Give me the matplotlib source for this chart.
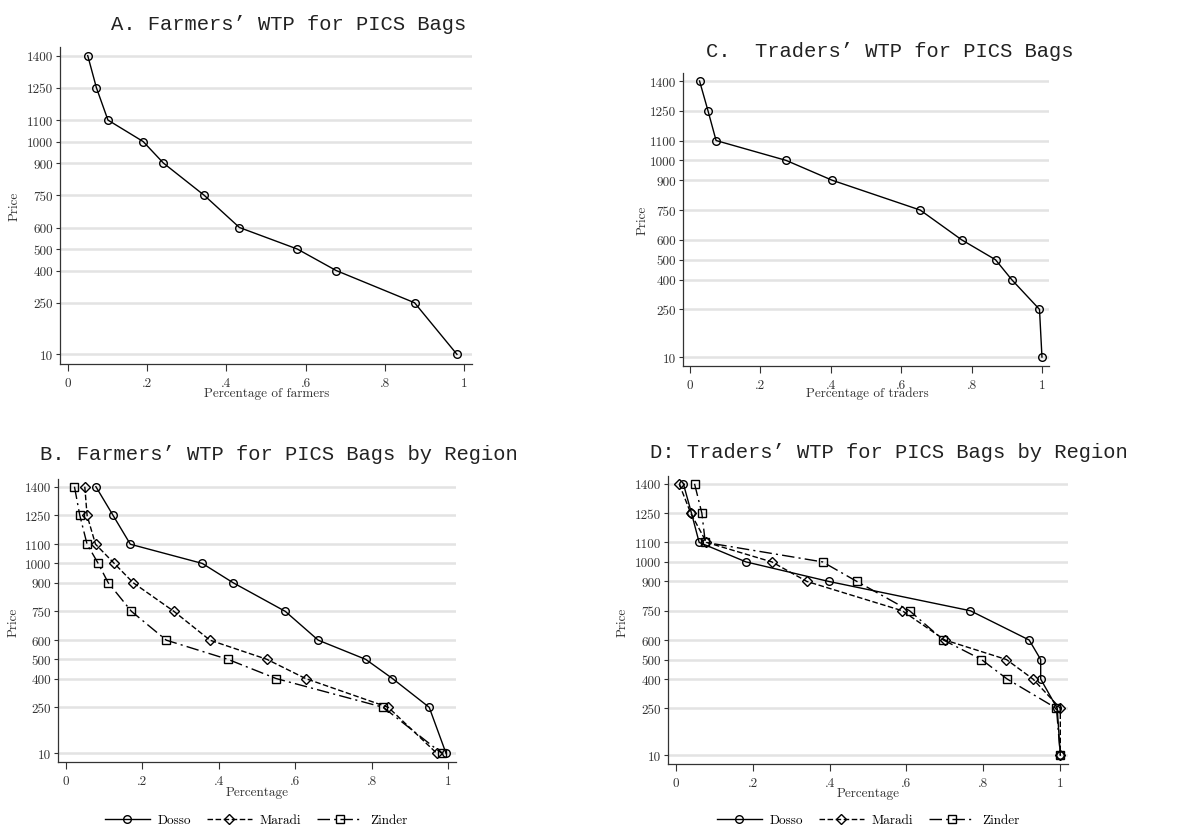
import matplotlib
matplotlib.use("Agg")
import matplotlib.pyplot as plt
import numpy as np

W, H = 1184, 829

prices = [1400, 1250, 1100, 1000, 900, 750, 600, 500, 400, 250, 10]
price_ticks = [10, 250, 400, 500, 600, 750, 900, 1000, 1100, 1250, 1400]
x_ticks = [0, 0.2, 0.4, 0.6, 0.8, 1.0]
x_ticklabels = ["0", ".2", ".4", ".6", ".8", "1"]

# panel A: farmers, all
farmers_all = [0.050, 0.072, 0.101, 0.190, 0.241, 0.344, 0.433, 0.579, 0.677, 0.875, 0.982]
# panel C: traders, all
traders_all = [0.027, 0.051, 0.074, 0.273, 0.404, 0.654, 0.772, 0.868, 0.914, 0.993, 1.0]

# panel B: farmers by region
farmers_dosso = [0.079, 0.124, 0.169, 0.357, 0.437, 0.574, 0.660, 0.784, 0.854, 0.950, 0.994]
farmers_maradi = [0.050, 0.056, 0.078, 0.127, 0.176, 0.283, 0.377, 0.526, 0.627, 0.843, 0.970]
farmers_zinder = [0.023, 0.037, 0.056, 0.085, 0.111, 0.172, 0.263, 0.424, 0.550, 0.830, 0.983]

# panel D: traders by region
traders_dosso = [0.020, 0.041, 0.061, 0.183, 0.398, 0.766, 0.919, 0.949, 0.949, 0.992, 1.0]
traders_maradi = [0.009, 0.039, 0.080, 0.250, 0.341, 0.589, 0.700, 0.860, 0.929, 1.0, 1.0]
traders_zinder = [0.049, 0.068, 0.077, 0.382, 0.471, 0.608, 0.696, 0.795, 0.862, 0.990, 1.0]

regions = ["Dosso", "Maradi", "Zinder"]
markers = ["o", "D", "s"]
msizes = [5.5, 5.5, 5.5]
styles = ["-", (0, (4, 1.8)), (0, (9, 3, 1.5, 3))]

serif = "cmr10"
mono = "Liberation Mono"
tick_fs = 9.5
grid_col = "#e3e3e3"
spine_col = "#333333"

fig = plt.figure(figsize=(W / 100, H / 100), dpi=100)
fig.patch.set_facecolor("white")


def px_axes(left, right, top, bottom):
    return fig.add_axes([left / W, 1 - bottom / H, (right - left) / W, (bottom - top) / H])


def style_axes(ax, xlabel, xlabel_xy, ylabel_xy):
    ax.set_xlim(-0.02, 1.02)
    ax.set_ylim(-35, 1440)
    for y in price_ticks:
        ax.axhline(y, color=grid_col, lw=1.8, zorder=0)
    for s in ["top", "right"]:
        ax.spines[s].set_visible(False)
    for s in ["left", "bottom"]:
        ax.spines[s].set_color(spine_col)
        ax.spines[s].set_linewidth(0.9)
    ax.set_xticks(x_ticks)
    ax.set_xticklabels(x_ticklabels, fontfamily=serif, fontsize=tick_fs, color="#333333")
    ax.set_yticks(price_ticks)
    ax.set_yticklabels([str(p) for p in price_ticks], fontfamily=serif, fontsize=tick_fs, color="#333333")
    ax.tick_params(axis="x", length=5, width=0.8, color=spine_col, pad=4)
    ax.tick_params(axis="y", length=3, width=0.8, color=spine_col, pad=2)
    fig.text(xlabel_xy[0] / W, 1 - xlabel_xy[1] / H, xlabel, fontfamily=serif,
             fontsize=tick_fs, color="#333333", ha="center", va="center")
    fig.text(ylabel_xy[0] / W, 1 - ylabel_xy[1] / H, "Price", fontfamily=serif,
             fontsize=tick_fs, color="#333333", ha="center", va="center", rotation=90)


def title(text, x, y):
    fig.text(x / W, 1 - y / H, text, fontfamily=mono, fontsize=14.8, color="#222222",
             ha="center", va="baseline")


# Panel A
axA = px_axes(60, 472, 48, 365)
style_axes(axA, "Percentage of farmers", (267, 394), (15, 206))
axA.plot(farmers_all, prices, color="black", lw=1, marker="o", ms=5.5,
         mfc="none", mec="black", mew=1)
title("A. Farmers\u2019 WTP for PICS Bags", 289, 30)

# Panel C
axC = px_axes(683, 1049, 74, 367)
style_axes(axC, "Percentage of traders", (867, 394), (643, 220))
axC.plot(traders_all, prices, color="black", lw=1, marker="o", ms=5.5,
         mfc="none", mec="black", mew=1)
title("C.  Traders\u2019 WTP for PICS Bags", 890, 57)


def region_panel(ax, series):
    handles = []
    for vals, lab, m, ms, ls in zip(series, regions, markers, msizes, styles):
        h, = ax.plot(vals, prices, color="black", lw=1, ls=ls, marker=m, ms=ms,
                     mfc="none", mec="black", mew=1, label=lab)
        handles.append(h)
    return handles


# Panel B
axB = px_axes(58, 456, 480, 763)
style_axes(axB, "Percentage", (257, 793), (14, 622))
hB = region_panel(axB, [farmers_dosso, farmers_maradi, farmers_zinder])
title("B. Farmers\u2019 WTP for PICS Bags by Region", 279, 460)

# Panel D
axD = px_axes(668, 1068, 477, 765)
style_axes(axD, "Percentage", (868, 794), (623, 622))
hD = region_panel(axD, [traders_dosso, traders_maradi, traders_zinder])
title("D: Traders\u2019 WTP for PICS Bags by Region", 889, 458)

for handles, cx in [(hB, 256), (hD, 868)]:
    fig.legend(handles, regions, loc="center", bbox_to_anchor=(cx / W, 1 - 821 / H),
               ncol=3, frameon=False, handlelength=3.4, handletextpad=0.6,
               columnspacing=1.2, prop={"family": serif, "size": 9.5})

fig.savefig("out.png", dpi=100)
